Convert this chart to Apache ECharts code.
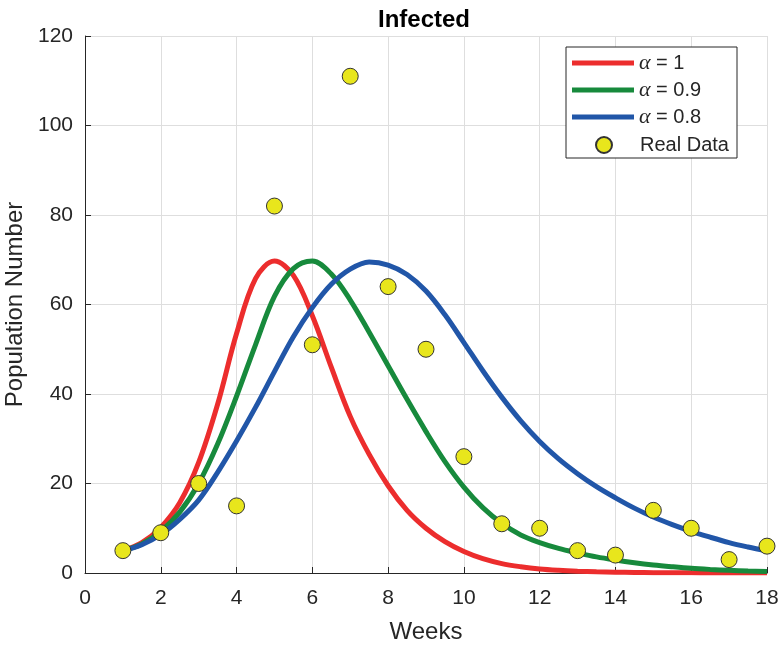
<!DOCTYPE html>
<html>
<head>
<meta charset="utf-8">
<script src="https://cdn.jsdelivr.net/npm/echarts@6/dist/echarts.min.js"></script>
<style>
    html,body{margin:0;padding:0;background:#fff;}
    #main{width:779px;height:645px;}
</style>
</head>
<body>
<div id="main"></div>
<script>
    // model curves, sampled every half week
    var weeks = [1,1.5,2,2.5,3,3.5,4,4.5,5,5.5,6,6.5,7,7.5,8,8.5,9,9.5,10,10.5,11,11.5,12,12.5,13,13.5,14,14.5,15,15.5,16,16.5,17,17.5,18];
    var alpha1 = [5,6.8,10.2,15.7,24.7,37.7,53.5,65.8,69.7,66.5,57.5,46,35,26.5,19.5,14,10,7,4.8,3.2,2.1,1.4,0.9,0.6,0.4,0.27,0.18,0.12,0.08,0.05,0.03,0.02,0.01,0.01,0];
    var alpha09 = [5,6.5,9.3,13.6,20,28.8,39.5,51,61.8,68,69.7,66.8,61,53.8,46.3,38.8,31.6,24.9,19.2,14.6,11.1,8.5,6.8,5.5,4.5,3.6,2.9,2.3,1.8,1.4,1.05,0.8,0.6,0.45,0.35];
    var alpha08 = [5,6.3,8.6,12,16.3,22.5,29.5,37,45,52.8,59.3,64.5,67.9,69.5,68.8,66.7,63,57.7,51.5,45.2,39.3,34,29.4,25.5,22.2,19.3,16.8,14.5,12.5,10.8,9.3,8,6.8,5.8,4.9];
    // observed cases
    var realWeeks = [1,2,3,4,5,6,7,8,9,10,11,12,13,14,15,16,17,18];
    var realData = [5,9,20,15,82,51,111,64,50,26,11,10,5,4,14,10,3,6];
    var xTicks = [0,18,2];
    var yTicks = [0,120,20];

    function pairs(xs, ys){
        return xs.map(function(x, i){ return [x, ys[i]]; });
    }

    var font = 'Liberation Sans, Arial, Helvetica, sans-serif';
    var ink = '#262626';

    var chart = echarts.init(document.getElementById('main'));
    chart.setOption({
        animation: false,
        backgroundColor: '#fff',
        textStyle: {fontFamily: font},
        title: {
            text: 'Infected',
            left: 373,
            top: 3,
            textStyle: {fontSize: 24, fontWeight: 'bold', color: '#000', fontFamily: font}
        },
        grid: {left: 85, right: 12, top: 36, bottom: 72, containLabel: false, outerBoundsMode: 'none'},
        graphic: [{
            type: 'rect',
            z: 10,
            shape: {x: 566, y: 47, width: 171, height: 111},
            style: {fill: '#fff', stroke: ink, lineWidth: 1}
        }],
        legend: [
            {
                z: 20,
                orient: 'vertical',
                left: 566,
                top: 47,
                padding: [5, 6, 0, 6],
                itemWidth: 62,
                itemHeight: 5,
                itemGap: 5,
                itemTextGap: 5,
                icon: 'rect',
                data: ['α = 1', 'α = 0.9', 'α = 0.8'],
                formatter: function(name){
                    return '{a|α}{b|' + name.slice(1) + '}';
                },
                textStyle: {
                    color: ink,
                    fontSize: 20,
                    lineHeight: 22,
                    rich: {
                        a: {fontFamily: 'Liberation Serif, DejaVu Serif, serif', fontStyle: 'italic', fontSize: 22, color: ink, lineHeight: 22},
                        b: {fontFamily: font, fontSize: 20, color: ink, lineHeight: 22}
                    }
                }
            },
            {
                z: 20,
                orient: 'vertical',
                left: 595,
                top: 134,
                padding: 0,
                itemWidth: 16,
                itemHeight: 16,
                icon: 'circle',
                data: ['Real Data'],
                formatter: function(name){
                    return '{s|}{t|' + name + '}';
                },
                textStyle: {
                    color: ink,
                    fontSize: 20,
                    lineHeight: 22,
                    rich: {
                        s: {width: 23, lineHeight: 22},
                        t: {fontFamily: font, fontSize: 20, color: ink, lineHeight: 22}
                    }
                }
            }
        ],
        xAxis: {
            type: 'value',
            min: xTicks[0],
            max: xTicks[1],
            interval: xTicks[2],
            name: 'Weeks',
            nameLocation: 'middle',
            nameGap: 47,
            nameTextStyle: {fontSize: 24, color: ink, fontFamily: font},
            axisLine: {show: true, onZero: false, lineStyle: {color: ink, width: 1}},
            axisTick: {show: true, inside: true, length: 6, lineStyle: {color: ink}},
            axisLabel: {fontSize: 21, color: ink, margin: 15, fontFamily: font},
            splitLine: {show: true, lineStyle: {color: '#dedede', width: 1}}
        },
        yAxis: {
            type: 'value',
            min: yTicks[0],
            max: yTicks[1],
            interval: yTicks[2],
            name: 'Population Number',
            nameLocation: 'middle',
            nameGap: 51,
            nameRotate: 90,
            nameTextStyle: {fontSize: 24, color: ink, fontFamily: font},
            axisLine: {show: true, lineStyle: {color: ink, width: 1}},
            axisTick: {show: true, inside: true, length: 6, lineStyle: {color: ink}},
            axisLabel: {fontSize: 21, color: ink, margin: 12, fontFamily: font},
            splitLine: {show: true, lineStyle: {color: '#dedede', width: 1}}
        },
        series: [
            {
                name: 'α = 1',
                type: 'line',
                smooth: 0.35,
                symbol: 'none',
                color: '#ec2d2d',
                lineStyle: {width: 5, color: '#ec2d2d'},
                data: pairs(weeks, alpha1)
            },
            {
                name: 'α = 0.9',
                type: 'line',
                smooth: 0.35,
                symbol: 'none',
                color: '#178a3c',
                lineStyle: {width: 5, color: '#178a3c'},
                data: pairs(weeks, alpha09)
            },
            {
                name: 'α = 0.8',
                type: 'line',
                smooth: 0.35,
                symbol: 'none',
                color: '#2156a8',
                lineStyle: {width: 5, color: '#2156a8'},
                data: pairs(weeks, alpha08)
            },
            {
                name: 'Real Data',
                type: 'scatter',
                symbol: 'circle',
                symbolSize: 16,
                z: 5,
                itemStyle: {color: '#e8e61c', borderColor: '#333', borderWidth: 1, opacity: 1},
                data: pairs(realWeeks, realData)
            }
        ]
    });
</script>
</body>
</html>
